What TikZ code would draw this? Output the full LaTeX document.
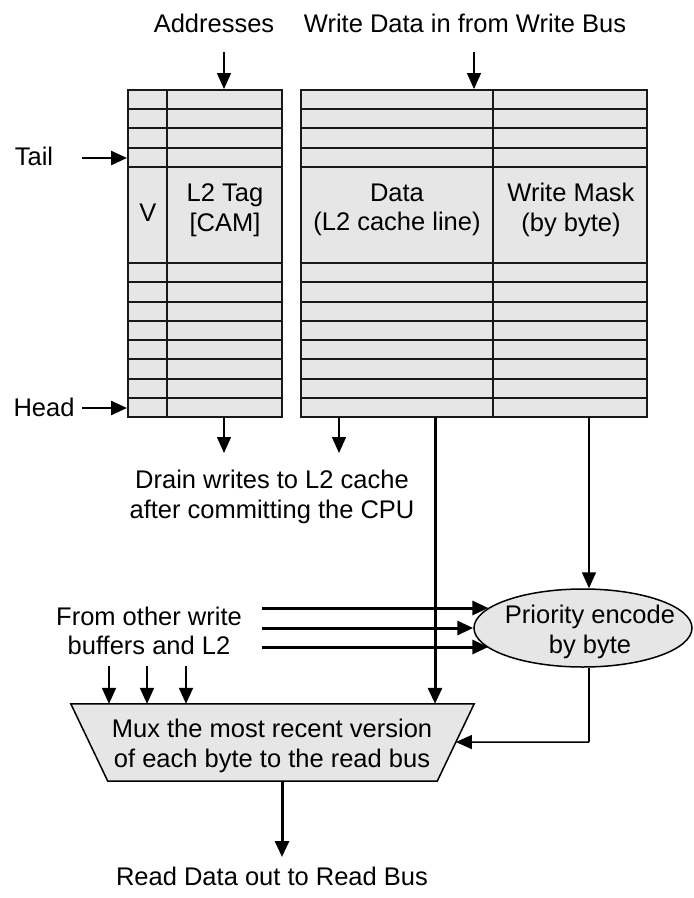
\documentclass[tikz,border=0pt]{standalone}
\usepackage{fontspec}
\setmainfont{Liberation Sans}
\usetikzlibrary{arrows.meta,shapes.geometric,calc}
\definecolor{cellgray}{RGB}{230,230,230}
\definecolor{gridline}{RGB}{25,25,25}
\tikzset{
  lbl/.style={inner sep=0pt, align=center, font=\fontsize{25.5}{29.5}\selectfont},
  tbl/.style={draw=gridline, line width=2pt, fill=cellgray, inner sep=0pt},
  gridl/.style={draw=gridline, line width=2pt},
  tip/.style={-{Triangle[length=16pt,width=14pt]}},
  thinarr/.style={tip, line width=1.5pt},
  midarr/.style={tip, line width=2pt},
  thickarr/.style={tip, line width=3pt},
  thinline/.style={line width=1.5pt},
}
\begin{document}
\begin{tikzpicture}[x=1pt,y=-1pt]
\useasboundingbox (0,0) rectangle (694,898);
\def\rh{19.235}
% tables
\node[tbl, minimum width=154pt, minimum height=327pt] (lt) at (205,253.5) {};
\node[tbl, minimum width=346pt, minimum height=327pt] (rt) at (474,253.5) {};
\foreach \k in {1,2,3,4,9,10,11,12,13,14,15,16}{
  \draw[gridl] (128,{90+\k*\rh}) -- (282,{90+\k*\rh});
  \draw[gridl] (301,{90+\k*\rh}) -- (647,{90+\k*\rh});
}
\draw[gridl] (167,90) -- (167,417);
\draw[gridl] (493,90) -- (493,417);
% table texts
\node[lbl] (v) at (148,213) {V};
\node[lbl] (tag) at (225,210) {L2 Tag\\{[CAM]}};
\node[lbl] (data) at (397,210) {Data\\(L2 cache line)};
\node[lbl] (mask) at (571,210) {Write Mask\\(by byte)};
% top labels
\node[lbl] (addr) at (214,23) {Addresses};
\node[lbl] (wd) at (465,23) {Write Data in from Write Bus};
\coordinate (a1) at (224,52);
\coordinate (w1) at (474,52);
\draw[thinarr] (a1) -- (a1 |- lt.north);
\draw[thinarr] (w1) -- (w1 |- rt.north);
% tail / head
\node[lbl] (tail) at (34,156) {Tail};
\node[lbl] (head) at (44,407) {Head};
\coordinate (t1) at (82,158);
\coordinate (h1) at (82,408);
\draw[midarr, line width=2.5pt] (t1) -- (t1 -| lt.west);
\draw[midarr, line width=2.5pt] (h1) -- (h1 -| lt.west);
% drain
\coordinate (dr1) at (224,453);
\coordinate (dr2) at (339,453);
\draw[thinarr] (dr1 |- lt.south) -- (dr1);
\draw[thinarr] (dr2 |- rt.south) -- (dr2);
\node[lbl] (drain) at (272,497) {Drain writes to L2 cache\\after committing the CPU};
% priority encoder
\node[ellipse, draw=black, line width=1.5pt, fill=cellgray, minimum width=218pt, minimum height=78pt, inner sep=0pt] (pe) at (583,628) {};
\node[lbl] (petext) at (590,632) {Priority encode\\by byte};
\coordinate (m1) at (589,417);
\draw[thinarr] (m1) -- (m1 |- pe.north);
% from other write buffers
\node[lbl] (other) at (149,631) {From other write\\buffers and L2};
\coordinate (s1) at (262,608);
\coordinate (s2) at (262,628);
\coordinate (s3) at (262,647);
\draw[thickarr] (s1) -- (s1 -| pe.168);
\draw[thickarr] (s2) -- (s2 -| pe.west);
\draw[thickarr] (s3) -- (s3 -| pe.192);
% mux
\node[minimum width=403pt, minimum height=77pt, inner sep=0pt] (mux) at (272.5,742.5) {};
\draw[line width=1.5pt, fill=cellgray] (mux.north west) -- (mux.north east) -- ([xshift=-37pt]mux.south east) -- ([xshift=37pt]mux.south west) -- cycle;
\node[lbl] (muxtext) at (272,746) {Mux the most recent version\\of each byte to the read bus};
\coordinate (i1) at (109,666);
\coordinate (i2) at (147,666);
\coordinate (i3) at (186,666);
\foreach \c in {i1,i2,i3}{
  \draw[midarr] (\c) -- (\c |- mux.north);
}
\coordinate (d1) at (435,417);
\draw[thickarr] (d1) -- (d1 |- mux.north);
\coordinate (o1) at (589,742);
\coordinate (me) at ($(mux.north east)!0.494!([xshift=-37pt]mux.south east)$);
\draw[thinline] (o1 |- pe.south) -- (o1);
\draw[thinarr] (o1) -- (me);
% output
\coordinate (r1) at (282,857);
\draw[thickarr] (r1 |- mux.south) -- (r1);
\node[lbl] (rd) at (272,876) {Read Data out to Read Bus};
\end{tikzpicture}
\end{document}
